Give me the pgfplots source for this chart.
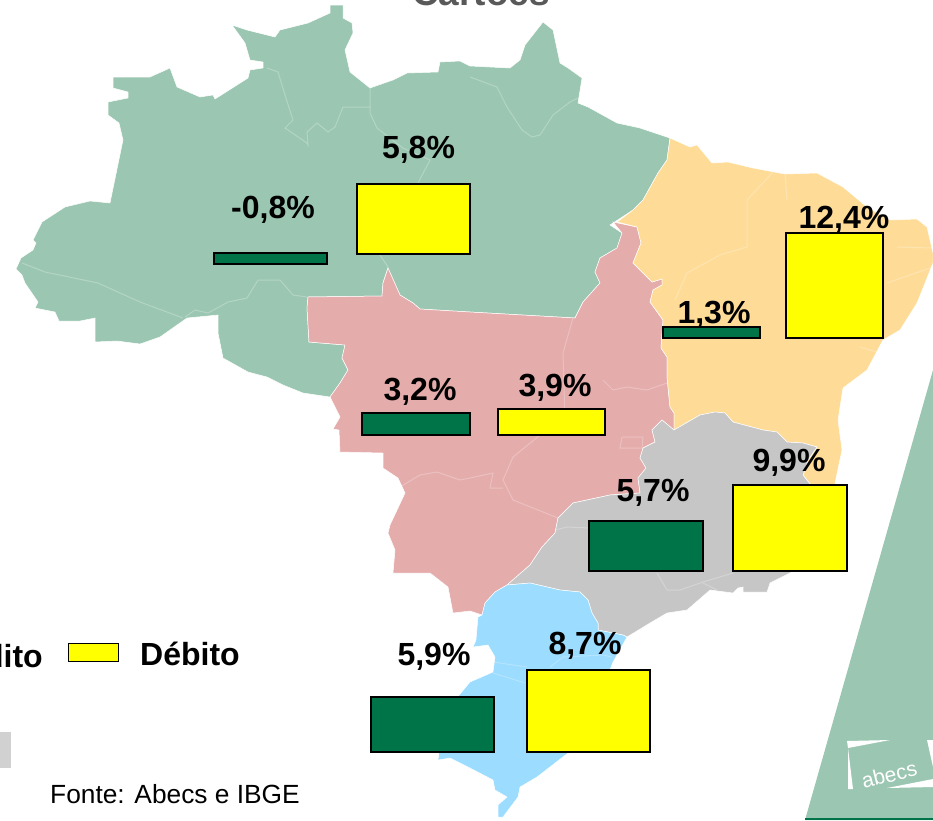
\documentclass[border=0pt]{standalone}
\usepackage{fontspec}
\setmainfont{Liberation Sans}
\usepackage{pgfplots}
\pgfplotsset{compat=1.18}

\definecolor{norte}{HTML}{9BC6B2}
\definecolor{centro}{HTML}{E5ACAC}
\definecolor{nordeste}{HTML}{FEDC98}
\definecolor{sudeste}{HTML}{C6C6C6}
\definecolor{sul}{HTML}{9BDCFF}
\definecolor{credito}{HTML}{007449}
\definecolor{debito}{RGB}{255,255,0}

\pgfplotsset{
  regiao/.style={fill=#1,draw=white,line width=0.5pt},
  divisa/.style={draw=white,draw opacity=0.25,line width=1pt},
  barra/.style={fill=#1,draw=black,line width=1.4pt},
}
\newcommand{\rotulo}[3]{\node[anchor=base,inner sep=0pt,font=\fontsize{32}{32}\selectfont\bfseries] at (axis cs:#1,#2) {#3};}

\begin{document}
\begin{tikzpicture}
\begin{axis}[
    width=933pt,height=820pt,scale only axis,
    xmin=0,xmax=933,ymin=0,ymax=820,
    y dir=reverse,
    hide axis,
    clip=true,
  ]
% Norte
\addplot[regiao=norte] coordinates {
(16,269)(21,258)(33,250)(36,243)(33,240)(42,222)(65,207)(90,201)(110,203)(123,140)(119,123)(108,115)(108,102)(128,98)(128,92)(113,88)(113,77)(150,77)(170,68)(177,87)(200,97)(213,95)(215,99)(248,78)(250,70)(263,68)(263,62)(250,60)(245,43)(232,25)(247,30)(275,37)(280,30)(308,23)(330,13)(330,5)(343,5)(343,18)(352,23)(353,33)(345,50)(350,72)(370,88)(393,80)(407,73)(438,72)(440,62)(460,61)(470,66)(510,68)(520,60)(525,45)(543,22)(553,30)(560,63)(568,68)(582,78)(578,103)(588,107)(617,123)(640,128)(670,138)(667,160)(658,173)(643,200)(633,210)(610,225)(622,233)(617,248)(600,258)(595,272)(600,283)(583,302)(575,318)(470,312)(420,309)(413,303)(400,295)(388,268)(383,283)(382,296)(308,297)(307,308)(309,342)(345,345)(342,358)(348,370)(340,383)(330,397)(303,393)(283,385)(267,377)(248,372)(223,358)(218,333)(218,315)(187,318)(160,337)(140,344)(117,341)(95,342)(95,318)(80,321)(59,321)(55,312)(35,308)(38,302)(25,283)(22,275)
} -- cycle;
% Centro-Oeste
\addplot[regiao=centro] coordinates {
(613,222)(637,227)(641,243)(633,263)(652,282)(662,279)(662,285)(653,290)(650,302)(663,320)(661,348)(667,357)(667,377)(670,407)(674,413)(674,430)(662,420)(652,430)(655,442)(643,448)(640,458)(646,468)(638,478)(640,493)(610,495)(573,503)(558,518)(555,533)(542,547)(530,565)(507,585)(495,592)(485,603)(482,615)(470,611)(453,613)(448,587)(430,573)(393,573)(395,550)(388,533)(390,525)(398,508)(405,493)(398,478)(383,468)(383,453)(340,452)(339,430)(333,429)(340,417)(330,397)(340,383)(348,370)(342,358)(345,345)(309,342)(307,308)(308,297)(382,296)(383,283)(388,268)(400,295)(413,303)(420,309)(470,312)(575,318)(583,302)(600,283)(595,272)(600,258)(617,248)(622,233)
} -- cycle;
% Nordeste
\addplot[regiao=nordeste] coordinates {
(670,138)(690,147)(697,145)(712,163)(728,162)(753,168)(785,174)(817,173)(843,187)(867,207)(890,220)(917,219)(927,227)(933,253)(933,263)(917,303)(900,330)(883,340)(867,370)(843,388)(838,420)(842,450)(835,483)(835,500)(810,500)(810,484)(803,475)(808,460)(817,447)(803,443)(787,442)(777,432)(763,430)(733,422)(725,413)(715,412)(700,415)(674,430)(674,413)(670,407)(667,377)(667,357)(661,348)(663,320)(650,302)(653,290)(662,285)(662,279)(652,282)(633,263)(641,243)(637,227)(617,222)(633,210)(643,200)(658,173)(667,160)
} -- cycle;
% Sudeste
\addplot[regiao=sudeste] coordinates {
(674,430)(700,415)(715,412)(725,413)(733,422)(763,430)(777,432)(787,442)(803,443)(817,447)(808,460)(803,475)(810,484)(830,490)(840,510)(830,540)(790,573)(770,583)(767,592)(743,592)(743,587)(738,588)(733,593)(710,590)(702,597)(687,610)(667,613)(650,623)(627,637)(623,635)(598,630)(598,623)(592,613)(588,600)(580,592)(560,590)(530,583)(507,585)(530,565)(542,547)(555,533)(558,518)(573,503)(610,495)(640,493)(638,478)(646,468)(640,458)(643,448)(655,442)(652,430)(662,420)
} -- cycle;
% Sul
\addplot[regiao=sul] coordinates {
(507,585)(530,583)(560,590)(580,592)(588,600)(592,613)(598,623)(598,630)(623,635)(627,637)(613,662)(610,670)(600,720)(568,753)(537,777)(520,787)(518,797)(503,817)(498,817)(498,805)(507,797)(495,790)(493,780)(470,768)(450,758)(438,760)(440,745)(455,700)(470,682)(493,672)(495,657)(488,645)(473,647)(476,640)(478,617)(482,615)(485,603)(495,592)
} -- cycle;
% divisas estaduais
\addplot[divisa] coordinates {(267,68)(278,72)(285,95)(293,120)(285,128)(307,143)(308,145)(307,132)(317,123)(328,132)(335,127)(343,107)(370,107)};
\addplot[divisa] coordinates {(370,88)(370,113)(377,128)(403,148)(430,160)(418,183)};
\addplot[divisa] coordinates {(380,255)(388,267)};
\addplot[divisa] coordinates {(22,263)(45,272)(98,283)(140,302)(183,318)};
\addplot[divisa] coordinates {(185,317)(195,310)(208,313)(228,302)(247,298)(258,280)(280,280)(293,295)(307,297)};
\addplot[divisa] coordinates {(470,77)(497,87)(507,107)(522,130)(532,137)(540,135)(553,115)(570,102)(578,98)};
\addplot[divisa] coordinates {(573,318)(563,353)(565,420)};
\addplot[divisa] coordinates {(773,172)(747,200)(747,247)(720,255)(687,273)(675,300)};
\addplot[divisa] coordinates {(785,174)(787,200)};
\addplot[divisa] coordinates {(897,247)(933,248)};
\addplot[divisa] coordinates {(887,283)(933,267)};
\addplot[divisa] coordinates {(860,347)(880,353)};
\addplot[divisa] coordinates {(540,435)(513,457)(503,480)(513,500)(558,518)};
\addplot[divisa] coordinates {(400,487)(420,475)(437,472)(460,480)(470,478)(493,473)(490,488)(503,488)};
\addplot[divisa] coordinates {(622,437)(643,437)(642,448)(620,448)(622,437)};
\addplot[divisa] coordinates {(603,380)(613,390)(627,387)(647,390)(667,383)};
\addplot[divisa] coordinates {(555,530)(567,527)(590,528)};
\addplot[divisa] coordinates {(657,573)(667,590)(680,590)(703,582)(733,573)};
\addplot[divisa] coordinates {(703,583)(717,590)};
\addplot[divisa] coordinates {(493,662)(527,667)};
\addplot[divisa] coordinates {(550,667)(563,657)(603,655)(612,657)};
\addplot[divisa] coordinates {(493,673)(525,683)};
% faixa e logotipo
\addplot[fill=norte,draw=none] coordinates {(933,370)(805,820)(933,820)} -- cycle;
\addplot[fill=credito,draw=none] coordinates {(805,818)(933,818)(933,820)(805,820)} -- cycle;
\addplot[fill=white,draw=none] coordinates {(847,741)(890,740)(848,748)} -- cycle;
\addplot[fill=white,draw=none] coordinates {(848,748)(853,789)(848,789)} -- cycle;
\addplot[fill=white,draw=none] coordinates {(927,740)(933,740)(933,767)} -- cycle;
\addplot[fill=white,draw=none] coordinates {(887,788)(933,779)(933,787)} -- cycle;
\addplot[fill=sudeste!80!white,draw=none] coordinates {(0,732)(11,732)(11,768)(0,768)} -- cycle;
% barras: credito
\addplot[barra=credito] coordinates {(214,253)(327,253)(327,264)(214,264)} -- cycle;
\addplot[barra=credito] coordinates {(663,327)(760,327)(760,338)(663,338)} -- cycle;
\addplot[barra=credito] coordinates {(362,413)(470,413)(470,435)(362,435)} -- cycle;
\addplot[barra=credito] coordinates {(589,521)(703,521)(703,571)(589,571)} -- cycle;
\addplot[barra=credito] coordinates {(371,697)(494,697)(494,752)(371,752)} -- cycle;
% barras: debito
\addplot[barra=debito] coordinates {(357,184)(470,184)(470,254)(357,254)} -- cycle;
\addplot[barra=debito] coordinates {(786,233)(883,233)(883,338)(786,338)} -- cycle;
\addplot[barra=debito] coordinates {(498,409)(605,409)(605,435)(498,435)} -- cycle;
\addplot[barra=debito] coordinates {(733,485)(847,485)(847,571)(733,571)} -- cycle;
\addplot[barra=debito] coordinates {(527,670)(650,670)(650,752)(527,752)} -- cycle;
% legenda
\addplot[fill=debito,draw=black,line width=1pt] coordinates {(68,643)(118,643)(118,661)(68,661)} -- cycle;
\node[anchor=base east,inner sep=0pt,font=\fontsize{32}{32}\selectfont\bfseries] at (axis cs:43,667) {Crédito};
\node[anchor=base west,inner sep=0pt,font=\fontsize{32}{32}\selectfont\bfseries] at (axis cs:140,665) {Débito};
% rotulos
\rotulo{418.5}{158}{5,8\%}
\rotulo{273}{218}{-0,8\%}
\rotulo{714}{323}{1,3\%}
\rotulo{844}{228}{12,4\%}
\rotulo{420}{400}{3,2\%}
\rotulo{555}{396}{3,9\%}
\rotulo{653}{501}{5,7\%}
\rotulo{789}{471}{9,9\%}
\rotulo{434}{665}{5,9\%}
\rotulo{585}{654}{8,7\%}
\node[anchor=base,inner sep=0pt,text=black!65,font=\fontsize{37}{37}\selectfont\bfseries] at (axis cs:481,5) {Cartões};
\node[anchor=base west,inner sep=0pt,font=\fontsize{26.3}{26.3}\selectfont] at (axis cs:50,803) {Fonte: Abecs e IBGE};
\node[anchor=base,inner sep=0pt,text=white,rotate=14,font=\fontsize{21}{21}\selectfont] at (axis cs:891,782) {abecs};
\end{axis}
\pgfresetboundingbox
\path[use as bounding box] (0,0) rectangle (933pt,820pt);
\end{tikzpicture}
\end{document}
